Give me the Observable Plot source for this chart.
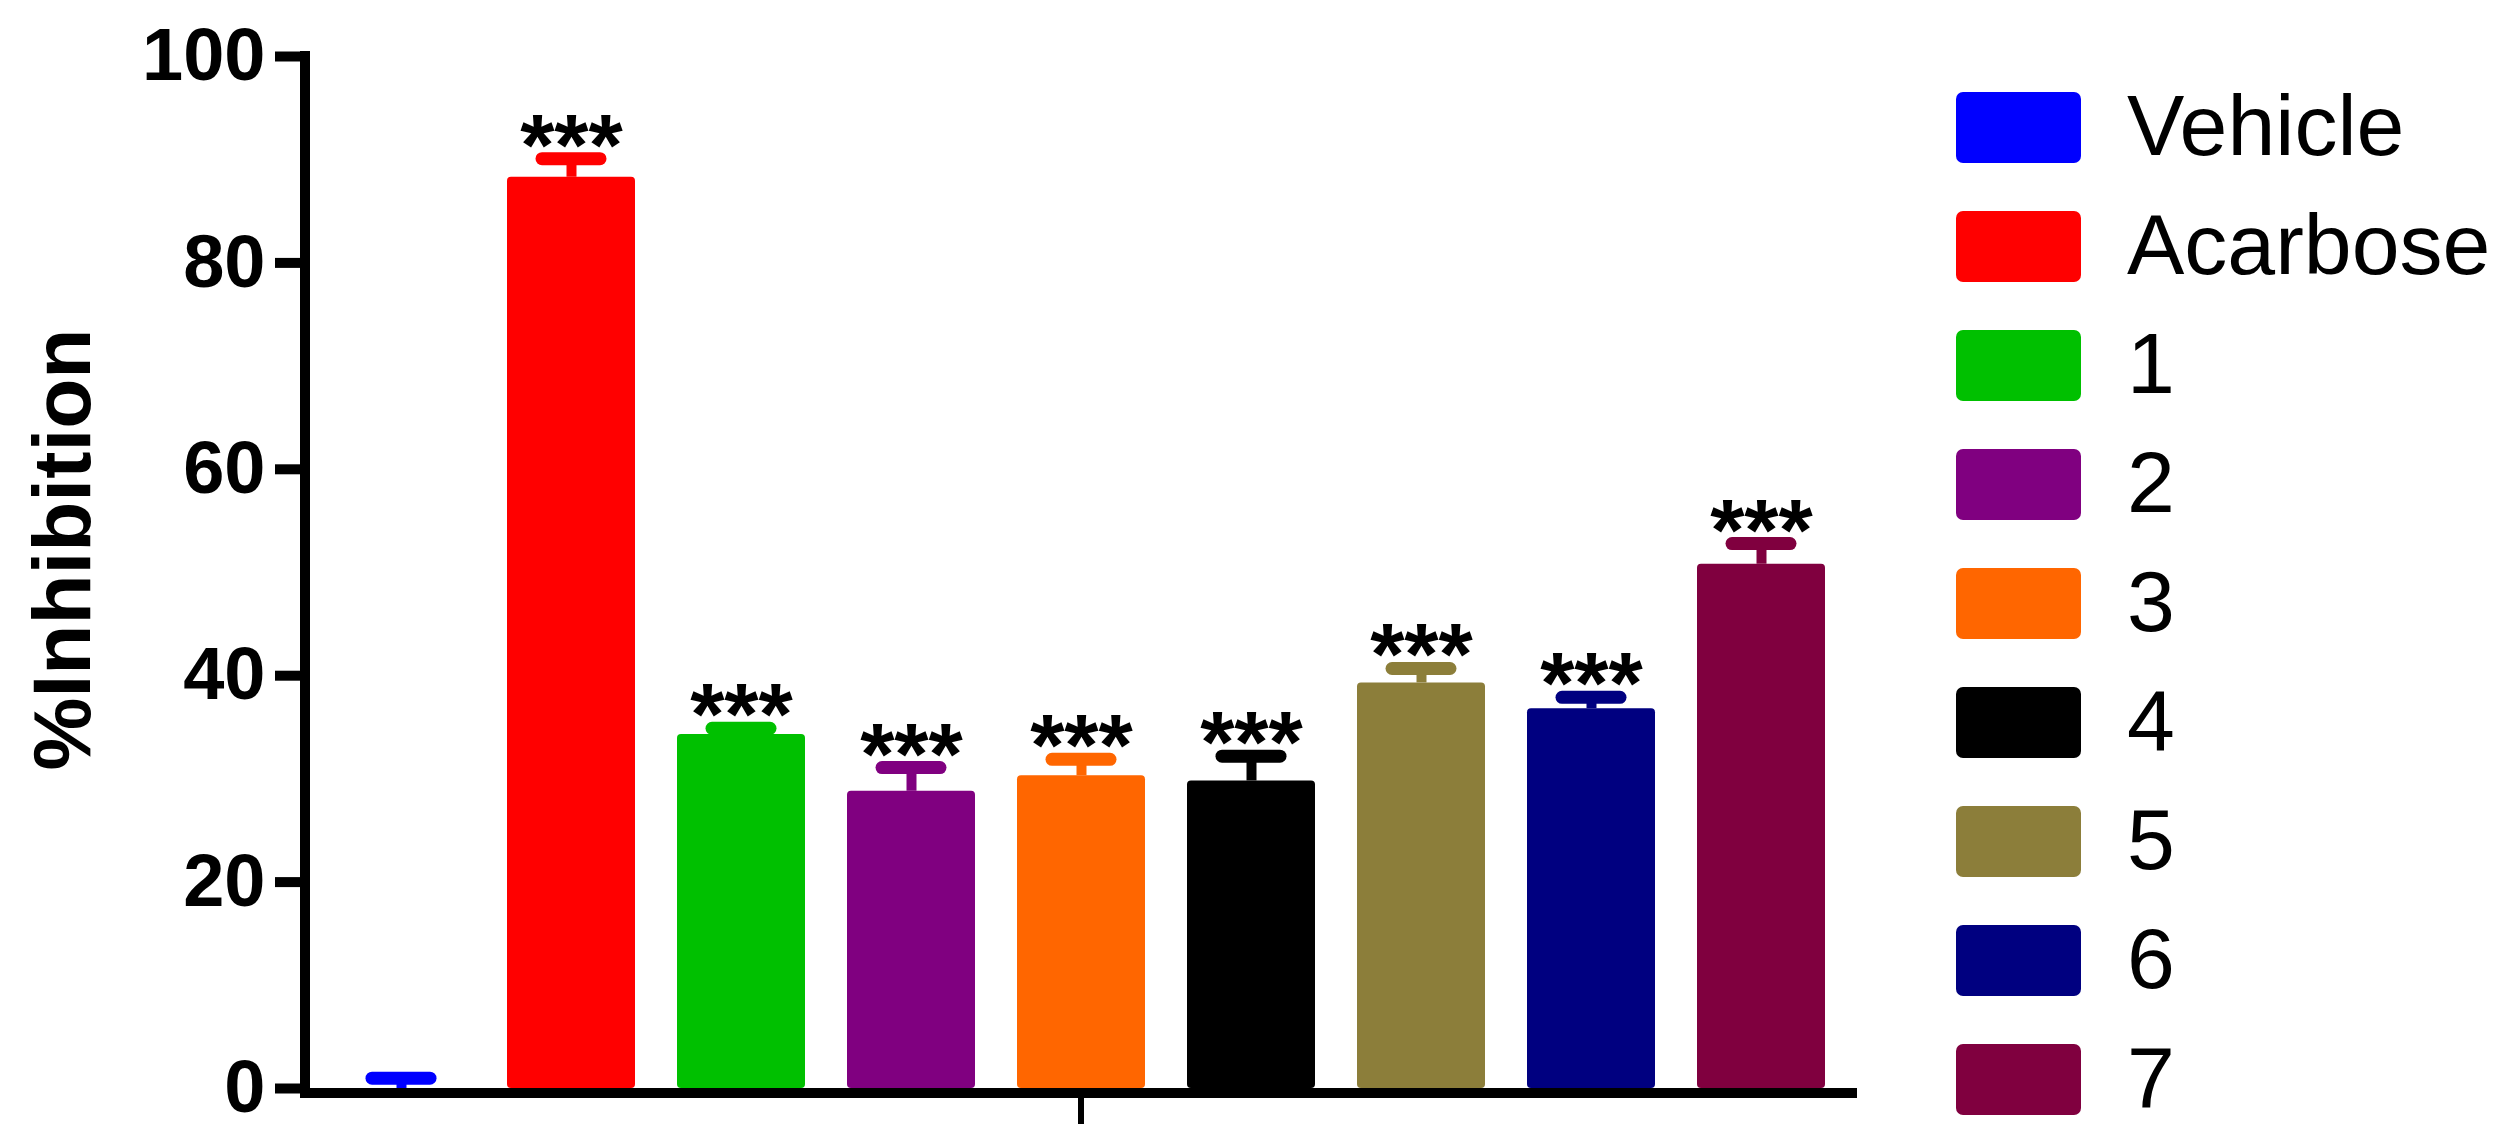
<!DOCTYPE html>
<html>
<head>
<meta charset="utf-8">
<script src="https://cdn.jsdelivr.net/npm/d3@7"></script>
<script src="https://cdn.jsdelivr.net/npm/@observablehq/plot@0.6"></script>
<style>
  html, body { margin: 0; padding: 0; background: #fff; }
  #wrap { position: relative; width: 2513px; height: 1142px; overflow: hidden; font-family: "Liberation Sans", Arial, sans-serif; }
  #legend { position: absolute; left: 1956px; top: 92px; }
  .row { display: flex; align-items: flex-start; height: 119px; }
  .sw { width: 125px; height: 71px; border-radius: 7px; flex: none; }
  .lab { margin-left: 46px; font-size: 86px; line-height: 1; margin-top: -10px; color: #000; white-space: nowrap; }
</style>
</head>
<body>
<div id="wrap"></div>
<script>
// ---- data ----
const categories = ["Vehicle", "Acarbose", "1", "2", "3", "4", "5", "6", "7"];
const means = [0, 88.3, 34.3, 28.8, 30.3, 29.8, 39.3, 36.8, 50.8];
const sems = [1.0, 1.8, 0.6, 2.3, 1.6, 2.4, 1.4, 1.1, 2.0];
const signif = ["", "***", "***", "***", "***", "***", "***", "***", "***"];
const colors = ["#0000FF", "#FF0000", "#00C000", "#800080", "#FF6600", "#000000", "#8C7E3A", "#000080", "#80003F"];
const yTicks = [0, 20, 40, 60, 80, 100];
const yLabel = "%Inhibition";

const data = categories.map((c, i) => ({name: c, mean: means[i], sem: sems[i], top: means[i] + sems[i], sig: signif[i]}));

const font = "Liberation Sans, Arial, sans-serif";

function axisLines(index, scales, values, dims) {
  const y = scales.y;
  const g = d3.create("svg:g").attr("stroke", "black").attr("fill", "none");
  const x0 = dims.marginLeft, x1 = dims.width - dims.marginRight;
  g.append("line").attr("x1", x0).attr("x2", x0).attr("y1", y(100) - 5).attr("y2", y(0) + 10).attr("stroke-width", 10);
  g.append("line").attr("x1", x0 - 5).attr("x2", x1).attr("y1", y(0) + 5).attr("y2", y(0) + 5).attr("stroke-width", 10);
  const xm = (x0 + x1) / 2;
  g.append("line").attr("x1", xm).attr("x2", xm).attr("y1", y(0) + 5).attr("y2", y(0) + 36).attr("stroke-width", 6);
  return g.node();
}

const chart = Plot.plot({
  width: 2513,
  height: 1142,
  marginLeft: 305,
  marginRight: 656,
  marginTop: 56,
  marginBottom: 54,
  style: {fontFamily: font, background: "white", color: "black", overflow: "visible"},
  x: {type: "band", domain: categories, paddingInner: 0.25, paddingOuter: 0.17, axis: null},
  y: {domain: [0, 100], axis: null},
  color: {type: "ordinal", domain: categories, range: colors},
  marks: [
    Plot.barY(data, {x: "name", y: "mean", fill: "name", rx: 4}),
    Plot.ruleX(data, {x: "name", y1: "mean", y2: "top", stroke: "name", strokeWidth: 10}),
    Plot.tickY(data, {x: "name", y: "top", stroke: "name", strokeWidth: 13, strokeLinecap: "round", insetLeft: 35, insetRight: 35}),
    Plot.text(data.filter(d => d.sig), {x: "name", y: "top", text: "sig", lineAnchor: "bottom", dy: 16, fontSize: 88, fontWeight: "bold", fill: "black"}),
    Plot.axisY({ticks: yTicks, tickSize: 30, strokeWidth: 10, tickPadding: 10, fontSize: 74, fontWeight: "bold", label: null, color: "black"}),
    axisLines,
    Plot.text([yLabel], {frameAnchor: "left", textAnchor: "middle", rotate: -90, dx: -242, dy: -23, fontSize: 82, fontWeight: "bold", fill: "black"})
  ]
});

const wrap = document.getElementById("wrap");
wrap.appendChild(chart);

const legend = document.createElement("div");
legend.id = "legend";
categories.forEach((c, i) => {
  const row = document.createElement("div");
  row.className = "row";
  const sw = document.createElement("div");
  sw.className = "sw";
  sw.style.background = colors[i];
  const lab = document.createElement("div");
  lab.className = "lab";
  lab.textContent = c;
  row.appendChild(sw);
  row.appendChild(lab);
  legend.appendChild(row);
});
wrap.appendChild(legend);
</script>
</body>
</html>
